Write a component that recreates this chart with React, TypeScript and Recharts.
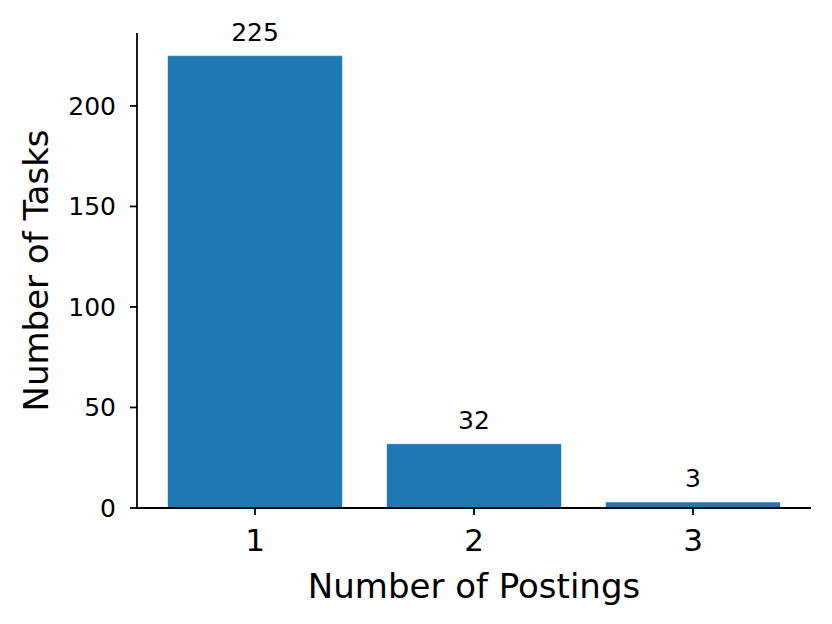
import { BarChart, Bar, XAxis, YAxis, LabelList, Label } from "recharts";

const postings = ["1", "2", "3"];
const taskCounts = [225, 32, 3];
const yTicks = [0, 50, 100, 150, 200];

const data = postings.map((p, i) => ({ posting: p, tasks: taskCounts[i] }));

const FONT = "DejaVu Sans";
const BLUE = "#1f77b4";

export default function App() {
  return (
    <div style={{ position: "absolute", left: 0, top: 0, width: 832, height: 624, background: "#fff" }}>
      <BarChart
        width={832}
        height={624}
        data={data}
        margin={{ top: 33, right: 21, left: 0, bottom: 0 }}
      >
        <XAxis
          dataKey="posting"
          height={116}
          padding={{ left: 8.5, right: 8.5 }}
          tickSize={7}
          tickMargin={14}
          tick={{ fontSize: 31, fill: "#000", fontFamily: FONT }}
          tickLine={{ stroke: "#000", strokeWidth: 1.8 }}
          axisLine={{ stroke: "#000", strokeWidth: 1.8 }}
        >
          <Label
            content={({ viewBox }: any) => (
              <text
                x={viewBox.x + viewBox.width / 2}
                y={598}
                textAnchor="middle"
                fontSize={34}
                fontFamily={FONT}
                fill="#000"
              >
                Number of Postings
              </text>
            )}
          />
        </XAxis>
        <YAxis
          width={137}
          domain={[0, (max: number) => max * 1.05]}
          ticks={yTicks}
          tickSize={7}
          tickMargin={14}
          tick={{ fontSize: 25, fill: "#000", fontFamily: FONT }}
          tickLine={{ stroke: "#000", strokeWidth: 1.8 }}
          axisLine={{ stroke: "#000", strokeWidth: 1.8 }}
        >
          <Label
            content={({ viewBox }: any) => {
              const cx = 36;
              const cy = viewBox.y + viewBox.height / 2;
              return (
                <text
                  x={cx}
                  y={cy}
                  transform={`rotate(-90 ${cx} ${cy})`}
                  textAnchor="middle"
                  dominantBaseline="central"
                  fontSize={34}
                  fontFamily={FONT}
                  fill="#000"
                >
                  Number of Tasks
                </text>
              );
            }}
          />
        </YAxis>
        <Bar
          dataKey="tasks"
          fill={BLUE}
          barSize={175}
          stroke="#ffffff"
          strokeOpacity={0.6}
          strokeWidth={1}
          isAnimationActive={false}
        >
          <LabelList
            dataKey="tasks"
            position="top"
            offset={15}
            style={{ fontSize: 25, fill: "#000", fontFamily: FONT }}
          />
        </Bar>
      </BarChart>
    </div>
  );
}
